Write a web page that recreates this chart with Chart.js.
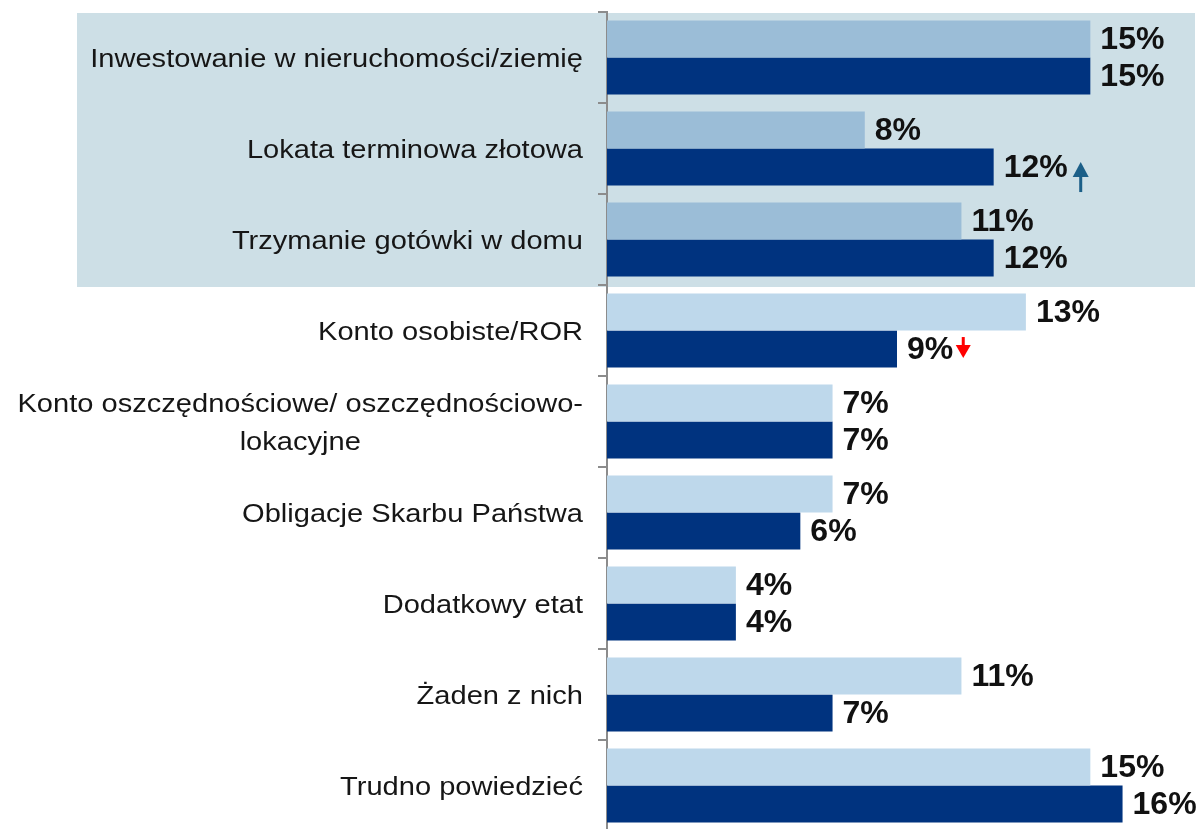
<!DOCTYPE html>
<html lang="pl">
<head>
    <meta charset="UTF-8">
    <title>Formy oszczędzania</title>
    <script src="https://cdn.jsdelivr.net/npm/chart.js"></script>
    <style>
        html, body {
            margin: 0;
            background: #ffffff;
            overflow: hidden;
        }
        .chart-box {
            width: 1200px;
            height: 831px; /* last category runs a couple of px past the bottom edge */
            position: relative;
        }
    </style>
</head>
<body>
    <div class="chart-box">
        <canvas id="savingsChart"></canvas>
    </div>

    <script>
        // data
        const categories = [
            'Inwestowanie w nieruchomości/ziemię',
            'Lokata terminowa złotowa',
            'Trzymanie gotówki w domu',
            'Konto osobiste/ROR',
            ['Konto oszczędnościowe/ oszczędnościowo-', 'lokacyjne'],
            'Obligacje Skarbu Państwa',
            'Dodatkowy etat',
            'Żaden z nich',
            'Trudno powiedzieć'
        ];
        const previousWave = [15, 8, 11, 13, 7, 7, 4, 11, 15];
        const currentWave = [15, 12, 12, 9, 7, 6, 4, 7, 16];
        // change markers next to the current wave labels
        const currentTrend = [null, 'up', null, 'down', null, null, null, null, null];

        const bandRows = 3; // first rows sit on the shaded band
        const lightBand = '#9bbdd7';
        const lightPlain = '#bed8eb';
        const darkBar = '#00337f';
        const labelFont = '"Liberation Sans", Arial, sans-serif';

        const lightColors = categories.map((c, i) => i < bandRows ? lightBand : lightPlain);

        // shaded box behind the top rows
        const bandPlugin = {
            id: 'band',
            beforeDraw(chart) {
                const ctx = chart.ctx;
                const y = chart.scales.y;
                const half = (y.getPixelForValue(1) - y.getPixelForValue(0)) / 2;
                const top = y.getPixelForValue(0) - half + 1;
                const bottom = y.getPixelForValue(bandRows - 1) + half + 2;
                ctx.save();
                ctx.fillStyle = '#cddfe6';
                ctx.fillRect(77, top, 1195 - 77, bottom - top);
                ctx.restore();
            }
        };

        // category labels, single lines right aligned, wrapped lines centred in their block
        const categoryLabels = {
            id: 'categoryLabels',
            afterDraw(chart) {
                const ctx = chart.ctx;
                const y = chart.scales.y;
                const stretch = 1.14;
                const right = 583;
                const lineH = 38;
                ctx.save();
                ctx.font = '25.5px ' + labelFont;
                ctx.fillStyle = '#161616';
                ctx.textBaseline = 'middle';
                categories.forEach((cat, i) => {
                    const lines = Array.isArray(cat) ? cat : [cat];
                    const cy = y.getPixelForValue(i) + 2;
                    const widths = lines.map(l => ctx.measureText(l).width * stretch);
                    const blockW = Math.max(...widths);
                    lines.forEach((line, k) => {
                        const ly = cy + (k - (lines.length - 1) / 2) * lineH;
                        const cx = right - blockW / 2;
                        ctx.save();
                        ctx.translate(cx, ly);
                        ctx.scale(stretch, 1);
                        ctx.textAlign = 'center';
                        ctx.fillText(line, 0, 0);
                        ctx.restore();
                    });
                });
                ctx.restore();
            }
        };

        // value labels at bar ends plus trend arrows
        const valueLabels = {
            id: 'valueLabels',
            afterDatasetsDraw(chart) {
                const ctx = chart.ctx;
                ctx.save();
                ctx.font = 'bold 32px ' + labelFont;
                ctx.fillStyle = '#111111';
                ctx.textBaseline = 'middle';
                ctx.textAlign = 'left';
                chart.data.datasets.forEach((ds, di) => {
                    const meta = chart.getDatasetMeta(di);
                    meta.data.forEach((bar, i) => {
                        const text = ds.data[i] + '%';
                        const x = bar.x + 10;
                        ctx.fillText(text, x, bar.y + 1);
                        if (di === 1 && currentTrend[i]) {
                            const endX = x + ctx.measureText(text).width;
                            if (currentTrend[i] === 'up') {
                                const ax = endX + 13;
                                const tip = bar.y - 5;
                                ctx.fillStyle = '#1b5f88';
                                ctx.beginPath();
                                ctx.moveTo(ax, tip);
                                ctx.lineTo(ax + 8, tip + 15);
                                ctx.lineTo(ax - 8, tip + 15);
                                ctx.closePath();
                                ctx.fill();
                                ctx.fillRect(ax - 1.5, tip + 14, 3, 16);
                            } else {
                                const ax = endX + 10;
                                const top = bar.y - 12;
                                ctx.fillStyle = '#ff0000';
                                ctx.fillRect(ax - 1.5, top, 3, 9);
                                ctx.beginPath();
                                ctx.moveTo(ax - 7.5, top + 8);
                                ctx.lineTo(ax + 7.5, top + 8);
                                ctx.lineTo(ax, top + 21);
                                ctx.closePath();
                                ctx.fill();
                            }
                            ctx.fillStyle = '#111111';
                        }
                    });
                });
                ctx.restore();
            }
        };

        const ctx = document.getElementById('savingsChart').getContext('2d');
        new Chart(ctx, {
            type: 'bar',
            data: {
                labels: categories,
                datasets: [{
                    label: 'Poprzednia fala',
                    data: previousWave,
                    backgroundColor: lightColors,
                    borderWidth: 0,
                    barPercentage: 1,
                    categoryPercentage: 0.815
                }, {
                    label: 'Obecna fala',
                    data: currentWave,
                    backgroundColor: darkBar,
                    borderWidth: 0,
                    barPercentage: 1,
                    categoryPercentage: 0.815
                }]
            },
            options: {
                indexAxis: 'y',
                responsive: true,
                maintainAspectRatio: false,
                animation: false,
                layout: {
                    padding: { top: 12, right: 13, bottom: 0, left: 0 }
                },
                plugins: {
                    legend: { display: false },
                    tooltip: { enabled: false }
                },
                scales: {
                    x: {
                        display: false,
                        min: 0,
                        max: 18
                    },
                    y: {
                        afterFit(scale) { scale.width = 607; },
                        ticks: { display: false },
                        grid: {
                            offset: true,
                            drawOnChartArea: false,
                            drawTicks: true,
                            tickLength: 9,
                            color: '#8c8c8c',
                            lineWidth: 2
                        },
                        border: { color: '#8c8c8c', width: 2 }
                    }
                }
            },
            plugins: [bandPlugin, categoryLabels, valueLabels]
        });
    </script>
</body>
</html>
